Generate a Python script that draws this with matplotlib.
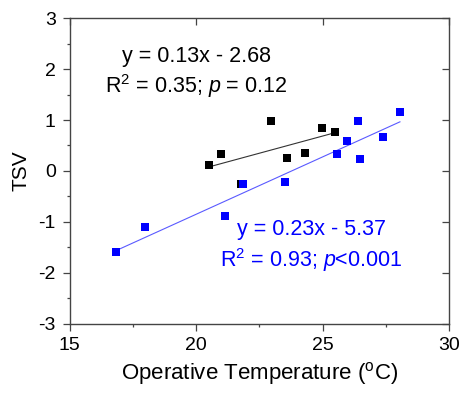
import matplotlib
matplotlib.use('Agg')
import matplotlib.pyplot as plt
import numpy as np

plt.rcParams['font.family'] = ['Liberation Sans', 'DejaVu Sans']
plt.rcParams['mathtext.fontset'] = 'custom'
plt.rcParams['mathtext.rm'] = 'Liberation Sans'
plt.rcParams['mathtext.it'] = 'Liberation Sans:italic'
plt.rcParams['mathtext.sf'] = 'Liberation Sans'
plt.rcParams['axes.unicode_minus'] = False

# black group
x_black = [20.52, 21.0, 21.77, 22.95, 23.61, 24.32, 24.98, 25.5]
y_black = [0.11, 0.34, -0.25, 0.99, 0.26, 0.36, 0.84, 0.76]
# blue group
x_blue = [16.83, 17.99, 21.14, 21.85, 23.53, 25.56, 25.95, 26.41, 26.47, 27.39, 28.06]
y_blue = [-1.60, -1.11, -0.89, -0.25, -0.21, 0.33, 0.59, 0.99, 0.23, 0.67, 1.16]

txt_black = ['y = 0.13x - 2.68', 'R$^{\\mathregular{2}}$ = 0.35; $\\mathit{p}$ = 0.12']
txt_blue = ['y = 0.23x - 5.37', 'R$^{\\mathregular{2}}$ = 0.93; $\\mathit{p}$<0.001']

fig = plt.figure(figsize=(4.65, 3.96), dpi=100)
ax = fig.add_axes([0.150, 0.183, 0.8156, 0.7708])

def fitline(x, y, color):
    k, b = np.polyfit(x, y, 1)
    xs = np.array([min(x), max(x)])
    ax.plot(xs, k * xs + b, color=color, lw=0.8, zorder=2)

fitline(x_black, y_black, '#333333')
fitline(x_blue, y_blue, '#5a5aff')
ax.scatter(x_black, y_black, marker='s', s=26, color='black', zorder=3, linewidths=0)
ax.scatter(x_blue, y_blue, marker='s', s=26, color='#0000ff', zorder=4, linewidths=0)

ax.text(20.0, 2.24, txt_black[0], ha='center', va='center', fontsize=15.5, color='black')
ax.text(20.0, 1.67, txt_black[1], ha='center', va='center', fontsize=15.5, color='black')
ax.text(24.55, -1.16, txt_blue[0], ha='center', va='center', fontsize=15.5, color='#0000ff')
ax.text(24.55, -1.75, txt_blue[1], ha='center', va='center', fontsize=15.5, color='#0000ff')

ax.set_xlim(15, 30)
ax.set_ylim(-3, 3)
ax.set_xticks([15, 20, 25, 30])
ax.set_yticks([-3, -2, -1, 0, 1, 2, 3])
ax.set_xticks([17.5, 22.5, 27.5], minor=True)
ax.set_yticks(np.arange(-2.5, 3, 1.0), minor=True)
ax.tick_params(which='major', direction='out', length=5, width=0.9, labelsize=14, color='#444444', pad=5)
ax.tick_params(which='minor', direction='out', length=2.5, width=0.9, color='#444444')
ax.tick_params(axis='both', which='major', top=True, right=True)
for t in ax.xaxis.get_major_ticks():
    t.tick2line.set_marker(3)
for t in ax.yaxis.get_major_ticks():
    t.tick2line.set_marker(0)
for s in ax.spines.values():
    s.set_color('#444444')
    s.set_linewidth(1.0)

ax.set_xlabel('Operative Temperature ($^{\\mathregular{o}}$C)', fontsize=16, labelpad=4)
ax.set_ylabel('TSV', fontsize=15, labelpad=6)

fig.savefig('out.png', dpi=100)
